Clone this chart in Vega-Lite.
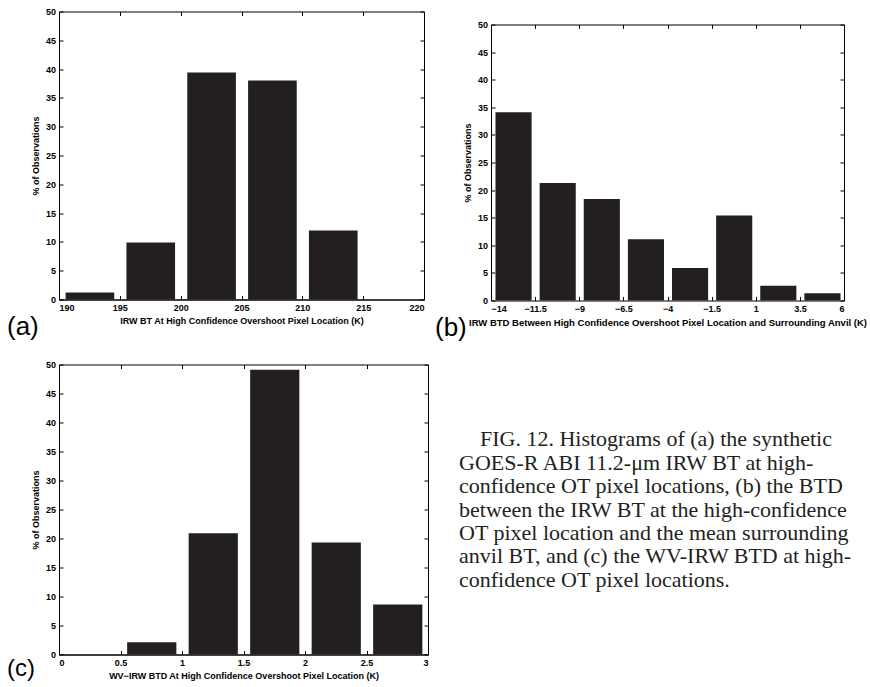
{
  "$schema": "https://vega.github.io/schema/vega-lite/v6.json",
  "padding": {"left": 6, "top": 6.5, "right": 0, "bottom": 0},
  "background": "white",
  "config": {
    "font": "Liberation Sans",
    "view": {"stroke": "#000", "strokeWidth": 1},
    "axis": {
      "labelFont": "Liberation Sans", "labelFontWeight": "bold", "labelFontSize": 9, "labelColor": "#000",
      "titleFont": "Liberation Sans", "titleFontWeight": "bold", "titleFontSize": 9, "titleColor": "#000",
      "tickColor": "#000", "tickSize": -4, "domainColor": "#000", "grid": false,
      "labelPadding": 7.5, "titlePadding": 4.5
    },
    "title": {"font": "Liberation Sans", "fontWeight": "normal", "fontSize": 26, "color": "#000", "orient": "bottom", "anchor": "start", "frame": "group"}
  },
  "spacing": 18,
  "vconcat": [
    {
      "spacing": 10,
      "hconcat": [
        {
          "width": 365, "height": 288,
          "title": {"text": "(a)", "dx": -52, "dy": -16},
          "data": {"values": [
            {"lo": 190, "hi": 195, "pct": 1.2},
            {"lo": 195, "hi": 200, "pct": 9.9},
            {"lo": 200, "hi": 205, "pct": 39.4},
            {"lo": 205, "hi": 210, "pct": 38.0},
            {"lo": 210, "hi": 215, "pct": 12.0},
            {"lo": 215, "hi": 220, "pct": 0}
          ]},
          "layer": [
            {
              "mark": {"type": "bar", "color": "#231f20", "binSpacing": 12.2},
              "encoding": {
                "x": {"field": "lo", "type": "quantitative", "bin": "binned", "scale": {"domain": [190, 220], "nice": false, "zero": false},
                      "axis": {"orient": "bottom", "values": [190, 195, 200, 205, 210, 215, 220], "format": ".4~g", "title": "IRW BT At High Confidence Overshoot Pixel Location (K)"}},
                "x2": {"field": "hi"},
                "y": {"field": "pct", "type": "quantitative", "scale": {"domain": [0, 50], "nice": false},
                      "axis": {"orient": "left", "values": [0, 5, 10, 15, 20, 25, 30, 35, 40, 45, 50], "format": ".4~g", "title": "% of Observations"}}
              }
            },
            {
              "mark": {"type": "bar", "opacity": 0},
              "encoding": {
                "x": {"field": "lo", "type": "quantitative", "bin": "binned", "axis": {"orient": "top", "values": [190, 195, 200, 205, 210, 215, 220], "labels": false, "domain": false, "title": null}},
                "x2": {"field": "hi"},
                "y": {"field": "pct", "type": "quantitative", "axis": {"orient": "right", "values": [0, 5, 10, 15, 20, 25, 30, 35, 40, 45, 50], "labels": false, "domain": false, "title": null}}
              }
            }
          ],
          "resolve": {"axis": {"x": "independent", "y": "independent"}}
        },
        {
          "width": 353, "height": 289,
          "view": {"stroke": null},
          "title": {"text": "(b)", "dx": -56, "dy": -16},
          "data": {"values": [
            {"lo": -14, "hi": -11.5, "pct": 34.1},
            {"lo": -11.5, "hi": -9, "pct": 21.3},
            {"lo": -9, "hi": -6.5, "pct": 18.4},
            {"lo": -6.5, "hi": -4, "pct": 11.1},
            {"lo": -4, "hi": -1.5, "pct": 5.9},
            {"lo": -1.5, "hi": 1, "pct": 15.4},
            {"lo": 1, "hi": 3.5, "pct": 2.65},
            {"lo": 3.5, "hi": 6, "pct": 1.3}
          ]},
          "layer": [
            {
              "mark": {"type": "bar", "color": "#231f20", "binSpacing": 8},
              "encoding": {
                "x": {"field": "lo", "type": "quantitative", "bin": "binned", "scale": {"domain": [-14, 6], "nice": false, "zero": false},
                      "axis": {"orient": "bottom", "values": [-14, -11.5, -9, -6.5, -4, -1.5, 1, 3.5, 6], "format": ".4~g", "titleFontSize": 9.5, "title": "IRW BTD Between High Confidence Overshoot Pixel Location and Surrounding Anvil (K)"}},
                "x2": {"field": "hi"},
                "y": {"field": "pct", "type": "quantitative", "scale": {"domain": [0, 50], "range": [289, 13], "nice": false},
                      "axis": {"orient": "left", "values": [0, 5, 10, 15, 20, 25, 30, 35, 40, 45, 50], "format": ".4~g", "title": "% of Observations"}}
              }
            },
            {
              "mark": {"type": "bar", "opacity": 0},
              "encoding": {
                "x": {"field": "lo", "type": "quantitative", "bin": "binned", "axis": {"orient": "top", "offset": -13, "values": [-14, -11.5, -9, -6.5, -4, -1.5, 1, 3.5, 6], "labels": false, "domain": true, "title": null}},
                "x2": {"field": "hi"},
                "y": {"field": "pct", "type": "quantitative", "axis": {"orient": "right", "values": [0, 5, 10, 15, 20, 25, 30, 35, 40, 45, 50], "labels": false, "domain": true, "title": null}}
              }
            }
          ],
          "resolve": {"axis": {"x": "independent", "y": "independent"}}
        }
      ]
    },
    {
      "spacing": 30,
      "hconcat": [
        {
          "width": 369, "height": 290,
          "title": {"text": "(c)", "dx": -52, "dy": -28, "fontSize": 24},
          "data": {"values": [
            {"lo": 0, "hi": 0.5, "pct": 0},
            {"lo": 0.5, "hi": 1, "pct": 2.1},
            {"lo": 1, "hi": 1.5, "pct": 20.9},
            {"lo": 1.5, "hi": 2, "pct": 49.1},
            {"lo": 2, "hi": 2.5, "pct": 19.3},
            {"lo": 2.5, "hi": 3, "pct": 8.6}
          ]},
          "layer": [
            {
              "mark": {"type": "bar", "color": "#231f20", "binSpacing": 12.3},
              "encoding": {
                "x": {"field": "lo", "type": "quantitative", "bin": "binned", "scale": {"domain": [0, 3], "nice": false, "zero": false},
                      "axis": {"orient": "bottom", "values": [0, 0.5, 1, 1.5, 2, 2.5, 3], "format": ".4~g", "title": "WV\u2212IRW BTD At High Confidence Overshoot Pixel Location (K)"}},
                "x2": {"field": "hi"},
                "y": {"field": "pct", "type": "quantitative", "scale": {"domain": [0, 50], "nice": false},
                      "axis": {"orient": "left", "values": [0, 5, 10, 15, 20, 25, 30, 35, 40, 45, 50], "format": ".4~g", "title": "% of Observations"}}
              }
            },
            {
              "mark": {"type": "bar", "opacity": 0},
              "encoding": {
                "x": {"field": "lo", "type": "quantitative", "bin": "binned", "axis": {"orient": "top", "values": [0, 0.5, 1, 1.5, 2, 2.5, 3], "labels": false, "domain": false, "title": null}},
                "x2": {"field": "hi"},
                "y": {"field": "pct", "type": "quantitative", "axis": {"orient": "right", "values": [0, 5, 10, 15, 20, 25, 30, 35, 40, 45, 50], "labels": false, "domain": false, "title": null}}
              }
            }
          ],
          "resolve": {"axis": {"x": "independent", "y": "independent"}}
        },
        {
          "width": 400, "height": 290,
          "view": {"stroke": null},
          "data": {"values": [
            {"line": 1, "text": "FIG. 12. Histograms of (a) the synthetic"},
            {"line": 2, "text": "GOES-R ABI 11.2-\u03bcm IRW BT at high-"},
            {"line": 3, "text": "confidence OT pixel locations, (b) the BTD"},
            {"line": 4, "text": "between the IRW BT at the high-confidence"},
            {"line": 5, "text": "OT pixel location and the mean surrounding"},
            {"line": 6, "text": "anvil BT, and (c) the WV-IRW BTD at high-"},
            {"line": 7, "text": "confidence OT pixel locations."}
          ]},
          "encoding": {
            "x": {"datum": 0, "type": "quantitative", "scale": {"domain": [0, 1], "nice": false}, "axis": null},
            "y": {"field": "line", "type": "quantitative", "scale": {"domain": [-2.506, 9.894], "range": [0, 290], "nice": false, "zero": false}, "axis": null},
            "text": {"field": "text"}
          },
          "layer": [
            {
              "transform": [{"filter": "datum.line == 1"}],
              "mark": {"type": "text", "align": "left", "baseline": "alphabetic", "font": "Liberation Serif", "fontSize": 22, "color": "#231f20", "dx": 21}
            },
            {
              "transform": [{"filter": "datum.line > 1"}],
              "mark": {"type": "text", "align": "left", "baseline": "alphabetic", "font": "Liberation Serif", "fontSize": 22, "color": "#231f20"}
            }
          ]
        }
      ]
    }
  ]
}
